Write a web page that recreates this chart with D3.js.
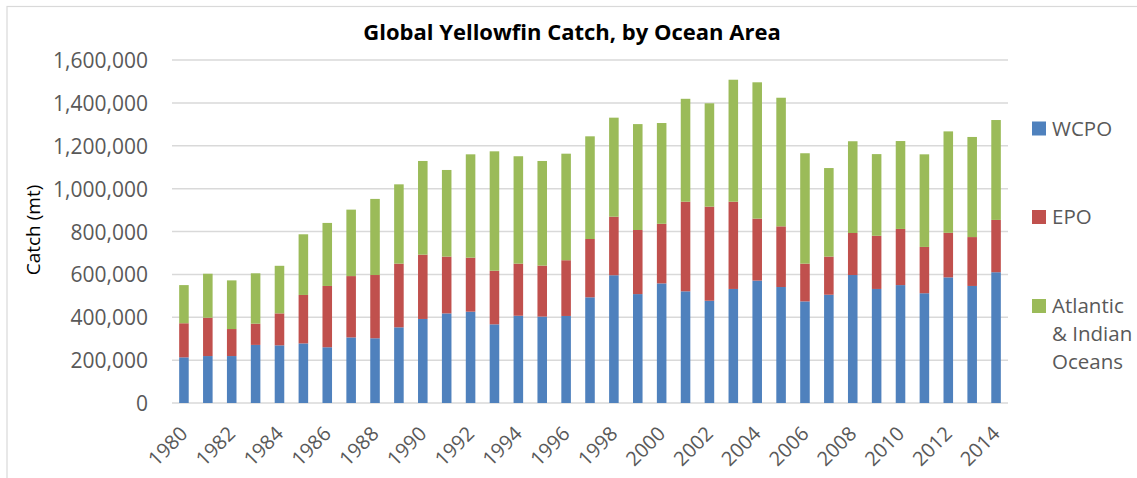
<!DOCTYPE html>
<html>
<head>
<meta charset="utf-8">
<script src="https://cdn.jsdelivr.net/npm/d3@7"></script>
<style>
  html, body { margin: 0; padding: 0; background: #fff; }
  svg { display: block; }
</style>
</head>
<body>
<svg id="chart" width="1137" height="478"></svg>
<script>
const years = [1980,1981,1982,1983,1984,1985,1986,1987,1988,1989,1990,1991,1992,1993,1994,1995,1996,1997,1998,1999,2000,2001,2002,2003,2004,2005,2006,2007,2008,2009,2010,2011,2012,2013,2014];
const wcpo = [213000,219000,219000,271000,269000,278000,260000,306000,302000,353000,392000,418000,426000,367000,407000,403000,406000,493000,596000,508000,558000,521000,477000,532000,571000,541000,474000,505000,597000,532000,550000,512000,586000,546000,610000];
const epo = [159000,179000,126000,99000,149000,226000,286000,286000,295000,297000,300000,265000,252000,250000,243000,238000,260000,272000,273000,299000,278000,418000,439000,407000,289000,283000,176000,178000,196000,248000,262000,216000,208000,228000,244000];
const atlanticIndian = [178000,205000,227000,235000,222000,283000,294000,310000,355000,370000,437000,404000,482000,557000,501000,488000,497000,479000,462000,494000,470000,480000,482000,569000,636000,600000,515000,413000,428000,381000,410000,432000,473000,467000,466000];
const seriesNames = ["WCPO", "EPO", "Atlantic & Indian Oceans"];
const seriesColors = ["#4F81BD", "#C0504D", "#9BBB59"];
const yTicks = [0,200000,400000,600000,800000,1000000,1200000,1400000,1600000];
const xTickYears = years.filter(y => y % 2 === 0);

const svg = d3.select("#chart");
const W = 1137, H = 478;
const m = {left: 172, right: 1008, top: 60, bottom: 403};

// chart border
svg.append("rect").attr("x", 7).attr("y", 6.5).attr("width", W + 10).attr("height", H + 10)
  .attr("fill", "#fff").attr("stroke", "#D9D9D9").attr("stroke-width", 1.2);

const table = years.map((yr, i) => ({year: yr, WCPO: wcpo[i], EPO: epo[i], ATL: atlanticIndian[i]}));
const keys = ["WCPO", "EPO", "ATL"];
const stack = d3.stack().keys(keys)(table);

const x = d3.scaleBand().domain(years).range([m.left, m.right]).paddingInner(0.6).paddingOuter(0.3);
const y = d3.scaleLinear().domain([0, 1600000]).range([m.bottom, m.top]);

// gridlines
svg.append("g").selectAll("line").data(yTicks).join("line")
  .attr("x1", m.left).attr("x2", m.right)
  .attr("y1", d => y(d)).attr("y2", d => y(d))
  .attr("stroke", "#D9D9D9").attr("stroke-width", 1.5);

// y axis labels
const yAxis = d3.axisLeft(y).tickValues(yTicks).tickFormat(d3.format(",")).tickSize(0).tickPadding(0);
const yg = svg.append("g").attr("transform", `translate(148,0)`).call(yAxis);
yg.select(".domain").remove();
yg.selectAll("text").attr("font-family", "'Open Sans', sans-serif").attr("font-size", 21)
  .attr("fill", "#595959").attr("dy", "0.36em");

// bars
svg.append("g").selectAll("g").data(stack).join("g")
  .attr("fill", (d, i) => seriesColors[i])
  .selectAll("rect").data(d => d).join("rect")
  .attr("x", d => x(d.data.year))
  .attr("width", x.bandwidth())
  .attr("y", d => y(d[1]))
  .attr("height", d => y(d[0]) - y(d[1]));

// x axis labels
const xAxis = d3.axisBottom(x).tickValues(xTickYears).tickSize(0).tickPadding(0);
const xg = svg.append("g").attr("transform", `translate(0,${m.bottom})`).call(xAxis);
xg.select(".domain").remove();
xg.selectAll("text")
  .attr("font-family", "'Open Sans', sans-serif").attr("font-size", 20).attr("fill", "#595959")
  .attr("text-anchor", "end").attr("dy", null).attr("y", null)
  .attr("transform", "translate(5,32) rotate(-45)");

// title
svg.append("text").attr("x", 572).attr("y", 40).attr("text-anchor", "middle")
  .attr("font-family", "'Open Sans', sans-serif").attr("font-weight", "bold").attr("font-size", 22)
  .attr("fill", "#000").text("Global Yellowfin Catch, by Ocean Area");

// y axis title
svg.append("text").attr("transform", "translate(40,230) rotate(-90)").attr("text-anchor", "middle")
  .attr("font-family", "'Open Sans', sans-serif").attr("font-size", 19).attr("fill", "#000")
  .text("Catch (mt)");

// legend
const legendY = [128.5, 217, 306];
const legendLines = [["WCPO"], ["EPO"], ["Atlantic", "& Indian", "Oceans"]];
const lg = svg.append("g");
seriesNames.forEach((name, i) => {
  lg.append("rect").attr("x", 1032).attr("y", legendY[i] - 7).attr("width", 14).attr("height", 14)
    .attr("fill", seriesColors[i]);
  const t = lg.append("text").attr("x", 1052).attr("y", legendY[i])
    .attr("font-family", "'Open Sans', sans-serif").attr("font-size", 20.5).attr("fill", "#595959");
  legendLines[i].forEach((ln, j) => {
    t.append("tspan").attr("x", 1052).attr("y", legendY[i] + j * 28).attr("dy", "0.36em").text(ln);
  });
});
</script>
</body>
</html>
